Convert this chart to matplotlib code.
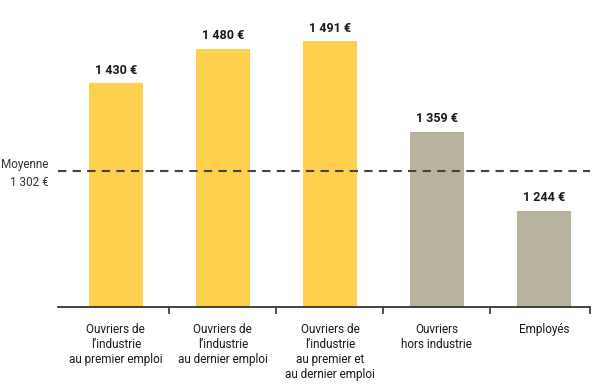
import matplotlib.pyplot as plt

# data
categories = ["Ouvriers de\nl\u2019industrie\nau premier emploi",
              "Ouvriers de\nl\u2019industrie\nau dernier emploi",
              "Ouvriers de\nl\u2019industrie\nau premier et\nau dernier emploi",
              "Ouvriers\nhors industrie",
              "Employ\u00e9s"]
values = [1430, 1480, 1491, 1359, 1244]
value_labels = ["1 430 \u20ac", "1 480 \u20ac", "1 491 \u20ac", "1 359 \u20ac", "1 244 \u20ac"]
mean_value = 1302
mean_label = "Moyenne\n1 302 \u20ac"

yellow = "#FDD14E"
grey = "#B8B39F"
bar_colors = [yellow, yellow, yellow, grey, grey]

plt.rcParams['font.family'] = ['Roboto', 'DejaVu Sans']

fig = plt.figure(figsize=(6.06, 3.9), dpi=100)
ax = fig.add_axes([58 / 606, 83.3 / 390, 532 / 606, 306.7 / 390])

x = list(range(len(values)))
ax.bar(x, values, width=0.505, color=bar_colors)
ax.set_xlim(-0.54, 4.43)
ax.set_ylim(1105, 1551)

for xi, v, lab in zip(x, values, value_labels):
    ax.annotate(lab, (xi, v), xytext=(0, 9.5), textcoords="offset points",
                ha="center", va="center", fontsize=9, fontweight="bold",
                color="#1a1a1a")

# mean line
ax.axhline(mean_value, color="#444444", lw=1.5, dashes=(4, 3))
ax.annotate(mean_label, (-0.63, mean_value), xytext=(0, -1.5),
            textcoords="offset points", ha="right", va="center",
            fontsize=8.5, color="#333333", linespacing=1.45,
            annotation_clip=False)

# axis and ticks
for s in ["top", "right", "left"]:
    ax.spines[s].set_visible(False)
ax.spines["bottom"].set_color("#333333")
ax.spines["bottom"].set_linewidth(1.3)
ax.set_yticks([])
ax.set_xticks([0.5, 1.5, 2.5, 3.5, 4.43])
ax.set_xticklabels([])
ax.tick_params(axis="x", length=5, width=1.2, color="#333333", direction="out")

for xi, cat in zip(x, categories):
    ax.annotate(cat, (xi, 1105), xytext=(0, -11.5), textcoords="offset points",
                ha="center", va="top", fontsize=8.5, color="#1a1a1a",
                linespacing=1.2, annotation_clip=False)

fig.savefig("out.png", dpi=100)
